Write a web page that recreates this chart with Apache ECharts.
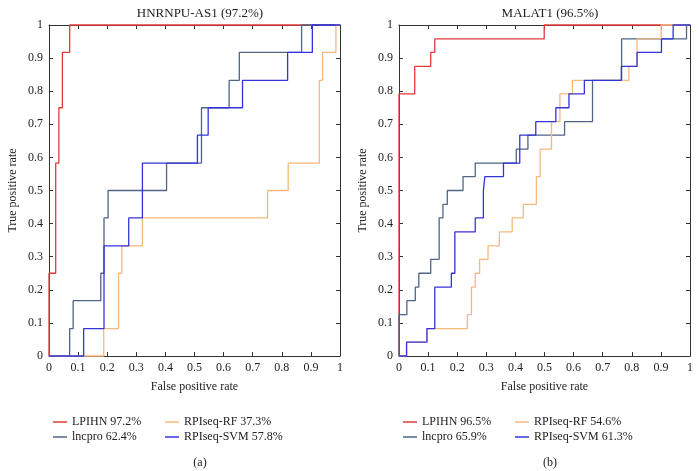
<!DOCTYPE html>
<html>
<head>
<meta charset="utf-8">
<script src="https://cdn.jsdelivr.net/npm/echarts@6/dist/echarts.min.js"></script>
<style>
  html, body { margin: 0; padding: 0; background: #fff; }
  #chart { width: 699px; height: 471px; }
</style>
</head>
<body>
<div id="chart"></div>
<script>
// (a) HNRNPU-AS1 -- step points: x where the curve rises, y after the rise
const aLpihnFpr = [0, 0, 0.023, 0.034, 0.046, 0.071, 1];
const aLpihnTpr = [0, 0.25, 0.583, 0.75, 0.917, 1, 1];
const aLncproFpr = [0, 0.071, 0.083, 0.178, 0.189, 0.203, 0.404, 0.524, 0.619, 0.654, 0.868, 1];
const aLncproTpr = [0, 0.083, 0.167, 0.25, 0.417, 0.5, 0.583, 0.75, 0.833, 0.917, 1, 1];
const aRfFpr = [0, 0.188, 0.239, 0.25, 0.321, 0.751, 0.822, 0.929, 0.94, 0.986, 1];
const aRfTpr = [0, 0.083, 0.25, 0.333, 0.417, 0.5, 0.583, 0.833, 0.917, 1, 1];
const aSvmFpr = [0, 0.119, 0.189, 0.274, 0.321, 0.51, 0.547, 0.665, 0.82, 0.905, 1];
const aSvmTpr = [0, 0.083, 0.333, 0.417, 0.583, 0.667, 0.75, 0.833, 0.917, 1, 1];

// (b) MALAT1
const bLpihnFpr = [0, 0, 0.054, 0.109, 0.123, 0.499, 1];
const bLpihnTpr = [0, 0.792, 0.875, 0.917, 0.958, 1, 1];
const bLncproFpr = [0, 0, 0.027, 0.056, 0.068, 0.109, 0.138, 0.151, 0.166, 0.22, 0.262, 0.403, 0.443, 0.569, 0.665, 0.765, 0.988, 1];
const bLncproTpr = [0, 0.125, 0.167, 0.208, 0.25, 0.292, 0.417, 0.458, 0.5, 0.542, 0.583, 0.625, 0.667, 0.708, 0.833, 0.958, 1, 1];
const bRfFpr = [0, 0.026, 0.096, 0.235, 0.249, 0.262, 0.277, 0.306, 0.345, 0.389, 0.427, 0.472, 0.485, 0.524, 0.553, 0.596, 0.79, 0.818, 0.901, 1];
const bRfTpr = [0, 0.042, 0.083, 0.125, 0.208, 0.25, 0.292, 0.333, 0.375, 0.417, 0.458, 0.542, 0.625, 0.708, 0.792, 0.833, 0.875, 0.958, 1, 1];
const bSvmFpr = [0, 0.026, 0.096, 0.123, 0.18, 0.192, 0.262, 0.29, 0.295, 0.359, 0.415, 0.47, 0.539, 0.584, 0.637, 0.764, 0.818, 0.902, 0.942, 1];
const bSvmTpr = [0, 0.042, 0.083, 0.208, 0.25, 0.375, 0.417, 0.5, 0.542, 0.583, 0.667, 0.708, 0.75, 0.792, 0.833, 0.875, 0.917, 0.958, 1, 1];

const aNames = ["LPIHN 97.2%", "lncpro 62.4%", "RPIseq-RF 37.3%", "RPIseq-SVM 57.8%"];
const bNames = ["LPIHN 96.5%", "lncpro 65.9%", "RPIseq-RF 54.6%", "RPIseq-SVM 61.3%"];
const colors = ["#e23b3b", "#4f6689", "#f6b97c", "#3434dc"];

const font = "'Liberation Serif', 'DejaVu Serif', serif";
const axisColor = "#333";

function pairs(xs, ys) {
  return xs.map((x, i) => [x, ys[i]]);
}

function xAxis(grid, pos, labels) {
  return {
    type: "value", gridIndex: grid, position: pos, min: 0, max: 1, interval: 0.1,
    name: labels ? "False positive rate" : "", nameLocation: "middle", nameGap: 25,
    nameTextStyle: { fontFamily: font, fontSize: 12, color: "#222" },
    axisLine: { show: true, onZero: false, lineStyle: { color: axisColor, width: 1 } },
    axisTick: { show: true, inside: true, length: 4, lineStyle: { color: axisColor } },
    axisLabel: { show: labels, fontFamily: font, fontSize: 12, color: "#222", margin: 6 },
    splitLine: { show: false }
  };
}

function yAxis(grid, pos, labels) {
  return {
    type: "value", gridIndex: grid, position: pos, min: 0, max: 1, interval: 0.1,
    name: labels ? "True positive rate" : "", nameLocation: "middle", nameGap: 30,
    nameTextStyle: { fontFamily: font, fontSize: 12, color: "#222" },
    axisLine: { show: true, onZero: false, lineStyle: { color: axisColor, width: 1 } },
    axisTick: { show: true, inside: true, length: 4, lineStyle: { color: axisColor } },
    axisLabel: { show: labels, fontFamily: font, fontSize: 12, color: "#222", margin: 6 },
    splitLine: { show: false }
  };
}

function curve(name, idx, xs, ys, axisIdx) {
  return {
    name: name, type: "line", step: "end", symbol: "none", clip: false,
    xAxisIndex: axisIdx, yAxisIndex: axisIdx,
    data: pairs(xs, ys),
    lineStyle: { color: colors[idx], width: 1.3 },
    itemStyle: { color: colors[idx] }
  };
}

function legend(names, left) {
  return {
    data: names, left: left, top: 411, orient: "vertical", itemGap: 3,
    icon: "rect", itemWidth: 14, itemHeight: 1.5,
    textStyle: { fontFamily: font, fontSize: 12, color: "#222" }
  };
}

const chart = echarts.init(document.getElementById("chart"));
chart.setOption({
  backgroundColor: "#fff",
  animation: false,
  title: [
    { text: "HNRNPU-AS1 (97.2%)", left: 195, top: 2, textAlign: "center",
      textStyle: { fontFamily: font, fontSize: 13, fontWeight: "normal", color: "#222" } },
    { text: "MALAT1 (96.5%)", left: 545, top: 2, textAlign: "center",
      textStyle: { fontFamily: font, fontSize: 13, fontWeight: "normal", color: "#222" } },
    { text: "(a)", left: 195, top: 452, textAlign: "center",
      textStyle: { fontFamily: font, fontSize: 12, fontWeight: "normal", color: "#222" } },
    { text: "(b)", left: 545, top: 452, textAlign: "center",
      textStyle: { fontFamily: font, fontSize: 12, fontWeight: "normal", color: "#222" } }
  ],
  grid: [
    { left: 49, top: 25, width: 291, height: 331 },
    { left: 399, top: 25, width: 291, height: 331 }
  ],
  xAxis: [xAxis(0, "bottom", true), xAxis(0, "top", false), xAxis(1, "bottom", true), xAxis(1, "top", false)],
  yAxis: [yAxis(0, "left", true), yAxis(0, "right", false), yAxis(1, "left", true), yAxis(1, "right", false)],
  legend: [
    legend([aNames[0], aNames[1]], 48),
    legend([aNames[2], aNames[3]], 160),
    legend([bNames[0], bNames[1]], 398),
    legend([bNames[2], bNames[3]], 510)
  ],
  series: [
    curve(aNames[0], 0, aLpihnFpr, aLpihnTpr, 0),
    curve(aNames[1], 1, aLncproFpr, aLncproTpr, 0),
    curve(aNames[2], 2, aRfFpr, aRfTpr, 0),
    curve(aNames[3], 3, aSvmFpr, aSvmTpr, 0),
    curve(bNames[0], 0, bLpihnFpr, bLpihnTpr, 2),
    curve(bNames[1], 1, bLncproFpr, bLncproTpr, 2),
    curve(bNames[2], 2, bRfFpr, bRfTpr, 2),
    curve(bNames[3], 3, bSvmFpr, bSvmTpr, 2)
  ]
});
</script>
</body>
</html>
